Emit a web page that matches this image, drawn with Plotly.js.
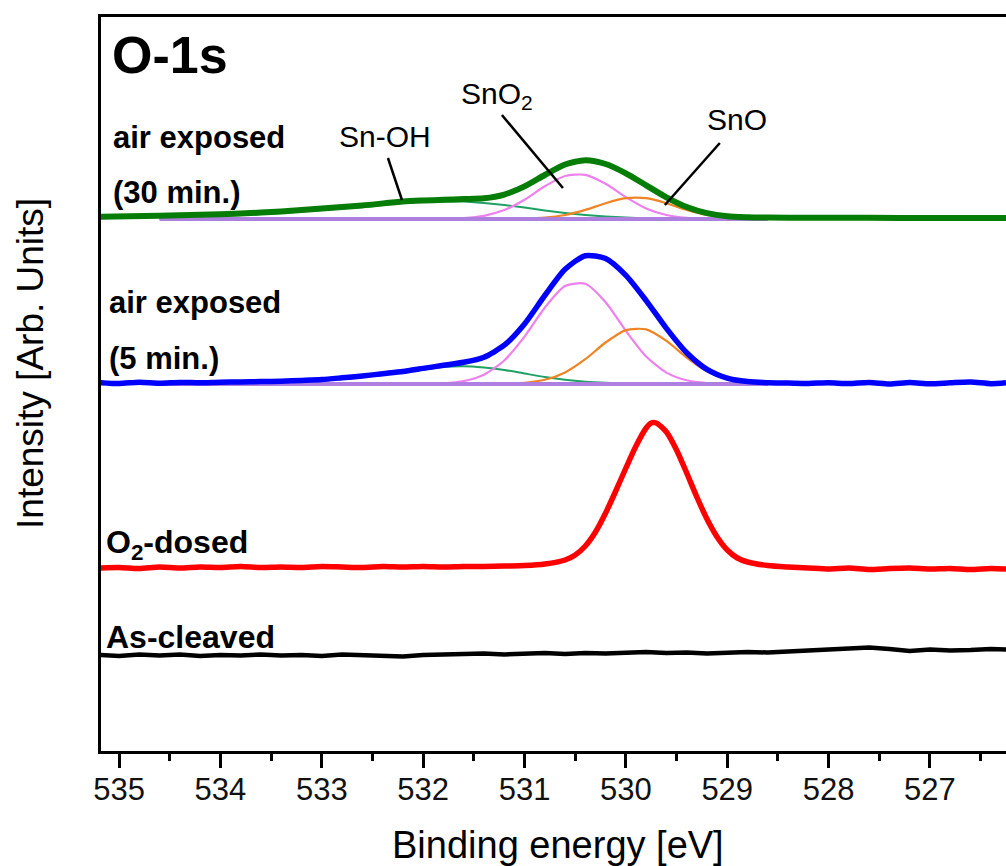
<!DOCTYPE html>
<html>
<head>
<meta charset="utf-8">
<script src="https://cdn.plot.ly/plotly-3.0.1.min.js"></script>
<style>html,body{margin:0;padding:0;background:#fff;overflow:hidden;}</style>
</head>
<body>
<div id="chart" style="width:1006px;height:866px;"></div>
<script>
// ---- data (binding energy in eV, intensity in arbitrary units) ----
const energyGrid = [535.2, 535.0, 534.8, 534.6, 534.4, 534.2, 534.0, 533.8, 533.6, 533.4, 533.2, 533.0, 532.8, 532.6, 532.4, 532.2, 532.0, 531.8, 531.6, 531.4, 531.2, 531.0, 530.8, 530.6, 530.4, 530.2, 530.0, 529.8, 529.6, 529.4, 529.2, 529.0, 528.8, 528.6, 528.4, 528.2, 528.0, 527.8, 527.6, 527.4, 527.2, 527.0, 526.8, 526.6, 526.4, 526.25];

const asCleaved = [0, -1, 0.5, -0.5, 0.5, -1, 0, -0.5, 0.5, -0.5, 0, -1, 0.5, -0.5, -1, -1.5, 0, 0.5, 0, 1.5, 0.5, 1, 2, 1, 2, 1.5, 2.5, 3, 2, 2.5, 1.5, 2.5, 3, 2.5, 4, 4.5, 5.5, 7, 7.5, 6, 4, 5.5, 4.5, 5, 6, 5.5];

const o2DosedE = [535.2, 535.0, 534.8, 534.6, 534.4, 534.2, 534.0, 533.8, 533.6, 533.4, 533.2, 533.0, 532.8, 532.6, 532.4, 532.2, 532.0, 531.8, 531.6, 531.4, 531.2, 531.0, 530.8, 530.6, 530.5, 530.4, 530.3, 530.2, 530.1, 530.0, 529.9, 529.8, 529.75, 529.7, 529.6, 529.5, 529.4, 529.3, 529.2, 529.1, 529.0, 528.9, 528.8, 528.6, 528.4, 528.2, 528.0, 527.8, 527.6, 527.4, 527.2, 527.0, 526.8, 526.6, 526.4, 526.25];
const o2Dosed = [0, 0.5, -0.5, 1, 0, 1, 0.5, 1.5, 0.5, 1, 0.5, 1.5, 1, 0.5, 1.5, 1, 1.5, 1, 1.5, 1.5, 2, 2.5, 4, 8, 13, 22, 36, 55, 77, 100, 122, 140, 145, 145, 136, 118, 95, 71, 49, 31, 18, 10, 6, 2.5, 1, 0, -1, 0, -1.5, -0.5, 0, -1, -0.5, -1.5, -0.5, -1];

const air5 = [1.5, 0.5, 1.8, 0.8, 1.6, 1.2, 1.8, 2, 2.4, 2.8, 3.6, 4.5, 6.2, 8, 10.3, 12.5, 15.6, 18.7, 21.7, 26.8, 38.8, 60.1, 88.5, 114.7, 128.3, 125.4, 108.6, 83.4, 55.6, 31.2, 14.6, 5.9, 2.4, 1.3, 1, 0.6, 1.2, 0.4, 1.6, 0, 1.4, 0.2, 1.2, 2, 0.3, 1.2];

const fitE = [534.6, 534.2, 533.8, 533.4, 533.0, 532.6, 532.2, 532.0, 531.8, 531.6, 531.4, 531.2, 531.0, 530.8, 530.6, 530.4, 530.2, 530.0, 529.8, 529.6, 529.4, 529.2, 529.0, 528.8, 528.6];
const air5SnOH = [0.3, 0.6, 1, 1.8, 3.5, 7, 11.5, 14.5, 17, 17.8, 16.5, 14, 10.5, 7, 4.2, 2.3, 1.2, 0.6, 0.3, 0.1, 0, 0, 0, 0, 0];
const air5SnO2 = [0, 0, 0, 0, 0, 0, 0, 0.1, 0.7, 2.9, 9.3, 23.5, 47.4, 76.3, 97.9, 100.2, 81.7, 53.1, 27.5, 11.4, 3.7, 1.0, 0.2, 0, 0];
const air5SnO = [0, 0, 0, 0, 0, 0, 0, 0, 0, 0, 0, 0.3, 1.2, 4.2, 11.6, 24.8, 41.5, 53.9, 54.6, 43.1, 26.5, 12.6, 4.7, 1.4, 0.3];

const air30E = [535.2, 534.9, 534.6, 534.2, 533.8, 533.4, 533.0, 532.6, 532.2, 532.0, 531.8, 531.6, 531.4, 531.2, 531.0, 530.8, 530.6, 530.4, 530.2, 530.0, 529.8, 529.6, 529.4, 529.2, 529.0, 528.8, 528.6, 528.2, 527.6, 527.0, 526.25];
const air30 = [2.2, 2.8, 3.3, 4.2, 5.5, 7.5, 10.5, 13.5, 17.5, 18.5, 19.2, 19.9, 20.7, 24.4, 32.6, 44.0, 54.5, 58.7, 55.0, 45.7, 33.7, 21.7, 12.0, 5.9, 2.7, 1.8, 1.5, 1.3, 1.2, 1.0, 1.0];
const air30SnOH = [1.8, 2.7, 4, 6, 9, 12, 16, 17, 17.5, 17.5, 16, 14, 11.5, 8.5, 6, 4, 2.5, 1.5, 0.8, 0.4, 0.2, 0.1, 0, 0, 0];
const air30SnO2 = [0, 0, 0, 0, 0, 0, 0, 0, 0.2, 0.9, 3.2, 8.9, 19.3, 32.7, 43, 44.1, 35.2, 21.9, 10.6, 4, 1.2, 0.3, 0, 0, 0];
const air30SnO = [0, 0, 0, 0, 0, 0, 0, 0, 0, 0, 0, 0, 0.3, 1.3, 4, 9.1, 15.8, 20.8, 20.8, 15.8, 9.1, 4, 1.3, 0.3, 0];

const backgroundE = [534.6, 528.6];
const background = [0, 0];

// vertical stacking offsets of the spectra (arb. units)
const offsetAsCleaved = 97;
const offsetO2 = 184;
const offsetAir5 = 368;
const offsetAir30 = 533;

const tickValues = [535, 534, 533, 532, 531, 530, 529, 528, 527];
const tickLabels = ['535', '534', '533', '532', '531', '530', '529', '528', '527'];

// ---- styles ----
const FONT = 'Liberation Sans, Arial, sans-serif';
const C = {
  black: '#000000', red: '#ff0000', blue: '#0000ff', green: '#067d06',
  snoh: '#1fa064', sno2: '#ee80ee', sno: '#f08424', bg: '#ad7fdf'
};

function shift(arr, off) { return arr.map(v => v + off); }
function tr(x, y, color, width, shape) {
  return { x: x, y: y, type: 'scatter', mode: 'lines', hoverinfo: 'skip',
    line: { color: color, width: width, shape: shape || 'spline', smoothing: 0.7 }, showlegend: false };
}

const traces = [
  tr(energyGrid, shift(asCleaved, offsetAsCleaved), C.black, 4.5, 'linear'),
  tr(o2DosedE, shift(o2Dosed, offsetO2), C.red, 5.5),
  // 5 min
  tr(fitE, shift(air5SnOH, offsetAir5), C.snoh, 2),
  tr(fitE, shift(air5SnO2, offsetAir5), C.sno2, 2.2),
  tr(fitE, shift(air5SnO, offsetAir5), C.sno, 2.2),
  tr(backgroundE, shift(background, offsetAir5), C.bg, 4, 'linear'),
  tr(energyGrid, shift(air5, offsetAir5), C.blue, 5.5),
  // 30 min
  tr(fitE, shift(air30SnOH, offsetAir30), C.snoh, 2),
  tr(fitE, shift(air30SnO2, offsetAir30), C.sno2, 2.2),
  tr(fitE, shift(air30SnO, offsetAir30), C.sno, 2.2),
  tr(backgroundE, shift(background, offsetAir30), C.bg, 4, 'linear'),
  tr(air30E, shift(air30, offsetAir30), C.green, 6)
];

function label(text, x, y, size, bold) {
  return { text: bold ? '<b>' + text + '</b>' : text, x: x, y: y, xref: 'x', yref: 'y',
    xanchor: 'left', yanchor: 'middle', showarrow: false,
    font: { family: FONT, size: size, color: '#000' } };
}

const annotations = [
  label('O-1s', 535.09, 697, 52, true),
  label('air exposed', 535.08, 615, 31, true),
  label('(30 min.)', 535.08, 560, 31, true),
  label('Sn-OH', 532.85, 616, 30, false),
  label('SnO<sub>2</sub>', 531.65, 657, 30, false),
  label('SnO', 529.22, 633, 30, false),
  label('air exposed', 535.12, 450, 31, true),
  label('(5 min.)', 535.12, 394, 31, true),
  label('O<sub>2</sub>-dosed', 535.15, 208, 32, true),
  label('As-cleaved', 535.15, 115, 32, true),
  { text: 'Binding energy [eV]', xref: 'paper', yref: 'paper', x: 0.505, y: -0.128,
    xanchor: 'center', yanchor: 'middle', showarrow: false,
    font: { family: FONT, size: 38, color: '#000' } },
  { text: 'Intensity [Arb. Units]', xref: 'paper', yref: 'paper', x: -0.0785, y: 0.5286,
    xanchor: 'center', yanchor: 'middle', showarrow: false, textangle: -90,
    font: { family: FONT, size: 37, color: '#000' } }
];

function pointer(x0, y0, x1, y1) {
  return { type: 'line', xref: 'x', yref: 'y', x0: x0, y0: y0, x1: x1, y1: y1,
    line: { color: '#000', width: 2.5 } };
}
const shapes = [
  pointer(532.347, 594, 532.209, 552),
  pointer(531.223, 637, 530.621, 564),
  pointer(529.073, 609, 529.615, 547)
];

const layout = {
  width: 1006, height: 866,
  margin: { l: 101, r: 0, t: 17, b: 115, pad: 0 },
  paper_bgcolor: '#fff', plot_bgcolor: '#fff',
  showlegend: false,
  font: { family: FONT, color: '#000' },
  xaxis: {
    range: [535.178, 526.25], showgrid: false, zeroline: false,
    showline: true, linewidth: 3, linecolor: '#000', mirror: true,
    ticks: 'outside', ticklen: 14, tickwidth: 3, tickcolor: '#000',
    tickmode: 'array', tickvals: tickValues, ticktext: tickLabels,
    ticklabelstandoff: -5,
    tickfont: { family: FONT, size: 31, color: '#111' },
    minor: { dtick: 0.5, tick0: 535, ticks: 'outside', ticklen: 7, tickwidth: 3, tickcolor: '#000' }
  },
  yaxis: {
    range: [1, 735], showgrid: false, zeroline: false,
    showline: true, linewidth: 3, linecolor: '#000', mirror: false,
    ticks: '', showticklabels: false
  },
  annotations: annotations,
  shapes: shapes
};

Plotly.newPlot('chart', traces, layout, { staticPlot: true, displayModeBar: false });
</script>
</body>
</html>
